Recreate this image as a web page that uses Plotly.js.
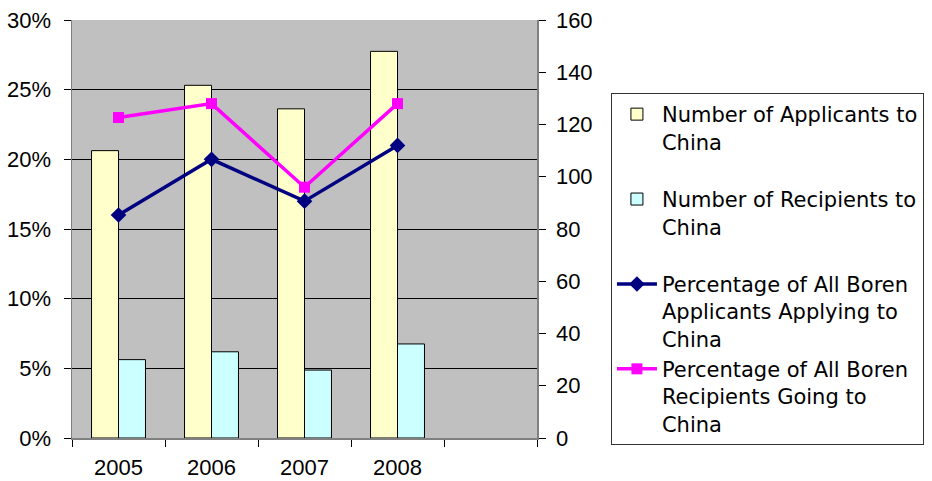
<!DOCTYPE html>
<html>
<head>
<meta charset="utf-8">
<script src="https://cdn.plot.ly/plotly-3.0.1.min.js"></script>
<style>html,body{margin:0;padding:0;background:#fff;}#chart{width:932px;height:481px;}</style>
</head>
<body>
<div id="chart"></div>
<script>
const years = ["2005", "2006", "2007", "2008"];
const allCategories = ["2005", "2006", "2007", "2008", " "];
const applicants = [110, 135, 126, 148];
const recipients = [30, 33, 26, 36];
const pctApplicants = [0.16, 0.20, 0.17, 0.21];
const pctRecipients = [0.23, 0.24, 0.18, 0.24];
const names = [
  "Number of Applicants to<br>China<br>&nbsp;",
  "Number of Recipients to<br>China<br>&nbsp;",
  "Percentage of All Boren<br>Applicants Applying to<br>China",
  "Percentage of All Boren<br>Recipients Going to<br>China"
];

const tickFont = {family: "Liberation Sans, Arial, sans-serif", size: 22, color: "#000"};

const traces = [
  {type: "bar", x: years, y: applicants, name: names[0], yaxis: "y",
   marker: {color: "#FFFFCC", line: {color: "#000", width: 1}}},
  {type: "bar", x: years, y: recipients, name: names[1], yaxis: "y",
   marker: {color: "#CCFFFF", line: {color: "#000", width: 1}}},
  {type: "scatter", mode: "lines+markers", x: years, y: pctApplicants, name: names[2], yaxis: "y2",
   line: {color: "#000080", width: 3.5}, marker: {symbol: "diamond", size: 12, color: "#000080"}},
  {type: "scatter", mode: "lines+markers", x: years, y: pctRecipients, name: names[3], yaxis: "y2",
   line: {color: "#FF00FF", width: 3.5}, marker: {symbol: "square", size: 11, color: "#FF00FF"}}
];

const layout = {
  width: 932, height: 481,
  margin: {l: 72, r: 395, t: 20, b: 43, autoexpand: false},
  paper_bgcolor: "#fff",
  plot_bgcolor: "#C0C0C0",
  barmode: "group",
  bargap: 0.42,
  bargroupgap: 0,
  showlegend: true,
  xaxis: {
    type: "category", categoryorder: "array", categoryarray: allCategories,
    range: [-0.5, 4.5], tickson: "boundaries", ticks: "outside", ticklen: 7,
    tickcolor: "#000", showgrid: false, showline: true, linecolor: "#808080", linewidth: 1.5,
    tickfont: tickFont, ticklabelstandoff: 9, fixedrange: true
  },
  yaxis: {
    side: "right", range: [0, 160], dtick: 20, tick0: 0, ticks: "outside", ticklen: 7,
    tickcolor: "#000", showgrid: false, zeroline: false, showline: true, linecolor: "#808080",
    linewidth: 1.5, tickfont: tickFont, ticklabelstandoff: 6
  },
  yaxis2: {
    overlaying: "y", side: "left", range: [0, 0.30], dtick: 0.05, tick0: 0, tickformat: ".0%",
    ticks: "outside", ticklen: 7, tickcolor: "#000", showgrid: true, gridcolor: "#000", gridwidth: 1,
    zeroline: false, showline: true, linecolor: "#808080", linewidth: 1.5, tickfont: tickFont,
    ticklabelstandoff: 8
  },
  legend: {
    x: 1.159, y: 0.8254, xanchor: "left", yanchor: "top",
    bgcolor: "#fff", bordercolor: "#333", borderwidth: 1,
    valign: "top", itemwidth: 40, traceorder: "normal", entrywidth: 300,
    font: {family: "DejaVu Sans, sans-serif", size: 21, color: "#000"}
  }
};

Plotly.newPlot("chart", traces, layout, {displayModeBar: false, staticPlot: true});
</script>
</body>
</html>
